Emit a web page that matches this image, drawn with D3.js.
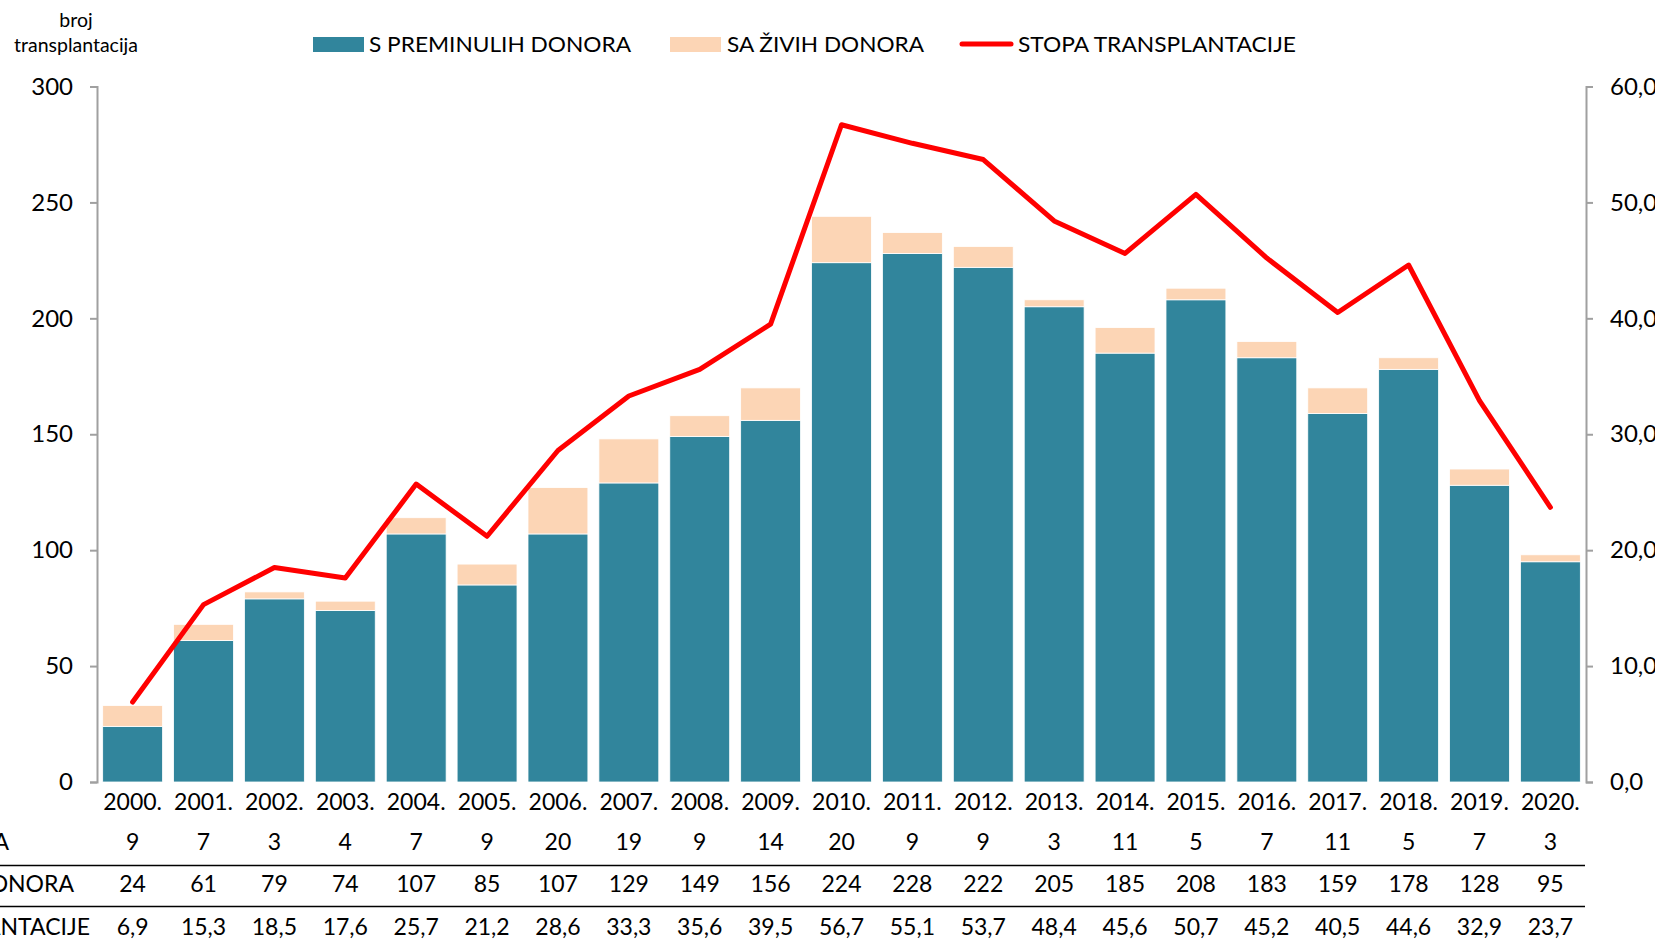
<!DOCTYPE html>
<html>
<head>
<meta charset="utf-8">
<script src="https://cdn.jsdelivr.net/npm/d3@7"></script>
<style>
  body { margin: 0; background: #fff; }
  svg { display: block; font-family: Lato, "Open Sans", sans-serif; }
</style>
</head>
<body>
<script>
const years = ["2000.", "2001.", "2002.", "2003.", "2004.", "2005.", "2006.", "2007.", "2008.", "2009.", "2010.",
  "2011.", "2012.", "2013.", "2014.", "2015.", "2016.", "2017.", "2018.", "2019.", "2020."];
const deceased = [24, 61, 79, 74, 107, 85, 107, 129, 149, 156, 224, 228, 222, 205, 185, 208, 183, 159, 178, 128, 95];
const living = [9, 7, 3, 4, 7, 9, 20, 19, 9, 14, 20, 9, 9, 3, 11, 5, 7, 11, 5, 7, 3];
const rate = [6.9, 15.3, 18.5, 17.6, 25.7, 21.2, 28.6, 33.3, 35.6, 39.5, 56.7, 55.1, 53.7, 48.4, 45.6, 50.7, 45.2, 40.5, 44.6, 32.9, 23.7];
const leftTicks = [0, 50, 100, 150, 200, 250, 300];
const rightTicks = [0, 10, 20, 30, 40, 50, 60];
const seriesNames = ["S PREMINULIH DONORA", "SA ŽIVIH DONORA", "STOPA TRANSPLANTACIJE"];

const width = 1655, height = 940;
const teal = "#31859c", peach = "#fcd5b5", red = "#ff0000", axisGray = "#a0a0a0";
const fmt = v => v.toFixed(1).replace(".", ",");

const svg = d3.select("body").append("svg")
  .attr("width", width).attr("height", height);

const x = d3.scaleBand().domain(years).range([97, 1586]).paddingInner(0.155).paddingOuter(0.08);
const y = d3.scaleLinear().domain([0, 300]).range([782, 86.5]);
const y2 = d3.scaleLinear().domain([0, 60]).range([782, 86.5]);

// stacked bars
const rows = years.map((yr, i) => ({ year: yr, deceased: deceased[i], living: living[i] }));
const stack = d3.stack().keys(["deceased", "living"])(rows);
const colors = { deceased: teal, living: peach };

svg.append("g")
  .selectAll("g")
  .data(stack)
  .join("g")
  .attr("fill", d => colors[d.key])
  .selectAll("rect")
  .data(d => d)
  .join("rect")
  .attr("x", d => x(d.data.year))
  .attr("width", x.bandwidth())
  .attr("y", d => y(d[1]))
  .attr("height", d => y(d[0]) - y(d[1]))
  .attr("stroke", "#fff")
  .attr("stroke-width", 0.8);

// axes
const leftAxis = svg.append("g")
  .attr("transform", "translate(97,0)")
  .call(d3.axisLeft(y).tickValues(leftTicks).tickSize(7).tickPadding(17).tickFormat(d3.format("d")));
const rightAxis = svg.append("g")
  .attr("transform", "translate(1586,0)")
  .call(d3.axisRight(y2).tickValues(rightTicks).tickSize(7).tickPadding(17).tickFormat(fmt));
[leftAxis, rightAxis].forEach(a => {
  a.select(".domain").attr("stroke", axisGray).attr("stroke-width", 2);
  a.selectAll(".tick line").attr("stroke", axisGray).attr("stroke-width", 2);
  a.selectAll("text").attr("font-size", 24).attr("fill", "#000")
    .attr("font-family", "Lato, 'Open Sans', sans-serif");
});

// rate line
svg.append("path")
  .datum(rate)
  .attr("fill", "none")
  .attr("stroke", red)
  .attr("stroke-width", 5)
  .attr("stroke-linejoin", "round")
  .attr("stroke-linecap", "round")
  .attr("d", d3.line()
    .x((d, i) => x(years[i]) + x.bandwidth() / 2)
    .y(d => y2(d)));

// year labels
svg.append("g")
  .attr("font-size", 23)
  .attr("text-anchor", "middle")
  .selectAll("text")
  .data(years)
  .join("text")
  .attr("x", d => x(d) + x.bandwidth() / 2)
  .attr("y", 802)
  .attr("dy", "0.35em")
  .text(d => d);

// data table below (row labels run off the left edge, as in the original)
const tableRows = [
  { label: seriesNames[1], values: living.map(String), y: 842, labelEnd: 9 },
  { label: seriesNames[0], values: deceased.map(String), y: 884, labelEnd: 74 },
  { label: seriesNames[2], values: rate.map(fmt), y: 927, labelEnd: 90 }
];
const table = svg.append("g").attr("font-size", 23);
tableRows.forEach(r => {
  table.append("text")
    .attr("x", r.labelEnd).attr("y", r.y).attr("dy", "0.35em")
    .attr("text-anchor", "end")
    .text(r.label);
  table.append("g")
    .attr("text-anchor", "middle")
    .selectAll("text")
    .data(r.values)
    .join("text")
    .attr("x", (d, i) => x(years[i]) + x.bandwidth() / 2)
    .attr("y", r.y)
    .attr("dy", "0.35em")
    .text(d => d);
});
table.selectAll("line.sep")
  .data([865.5, 906.5])
  .join("line")
  .attr("class", "sep")
  .attr("x1", 0).attr("x2", 1585)
  .attr("y1", d => d).attr("y2", d => d)
  .attr("stroke", "#000").attr("stroke-width", 1.6);

// y axis title
svg.append("text")
  .attr("font-size", 19.5)
  .attr("text-anchor", "middle")
  .selectAll("tspan")
  .data(["broj", "transplantacija"])
  .join("tspan")
  .attr("x", 76)
  .attr("y", (d, i) => 20 + i * 25)
  .attr("dy", "0.35em")
  .text(d => d);

// legend
const legend = svg.append("g").attr("font-size", 22);
const legendItems = [
  { name: seriesNames[0], type: "rect", color: teal, x0: 313, tx: 369, tw: 262 },
  { name: seriesNames[1], type: "rect", color: peach, x0: 670, tx: 727, tw: 197 },
  { name: seriesNames[2], type: "line", color: red, x0: 960, tx: 1018, tw: 278 }
];
legendItems.forEach(it => {
  if (it.type === "rect") {
    legend.append("rect").attr("x", it.x0).attr("y", 37).attr("width", 51).attr("height", 15).attr("fill", it.color);
  } else {
    legend.append("line").attr("x1", it.x0 + 2).attr("x2", it.x0 + 51).attr("y1", 44).attr("y2", 44)
      .attr("stroke", it.color).attr("stroke-width", 5).attr("stroke-linecap", "round");
  }
  legend.append("text")
    .attr("x", it.tx).attr("y", 44).attr("dy", "0.35em")
    .attr("textLength", it.tw).attr("lengthAdjust", "spacingAndGlyphs")
    .text(it.name);
});
</script>
</body>
</html>
